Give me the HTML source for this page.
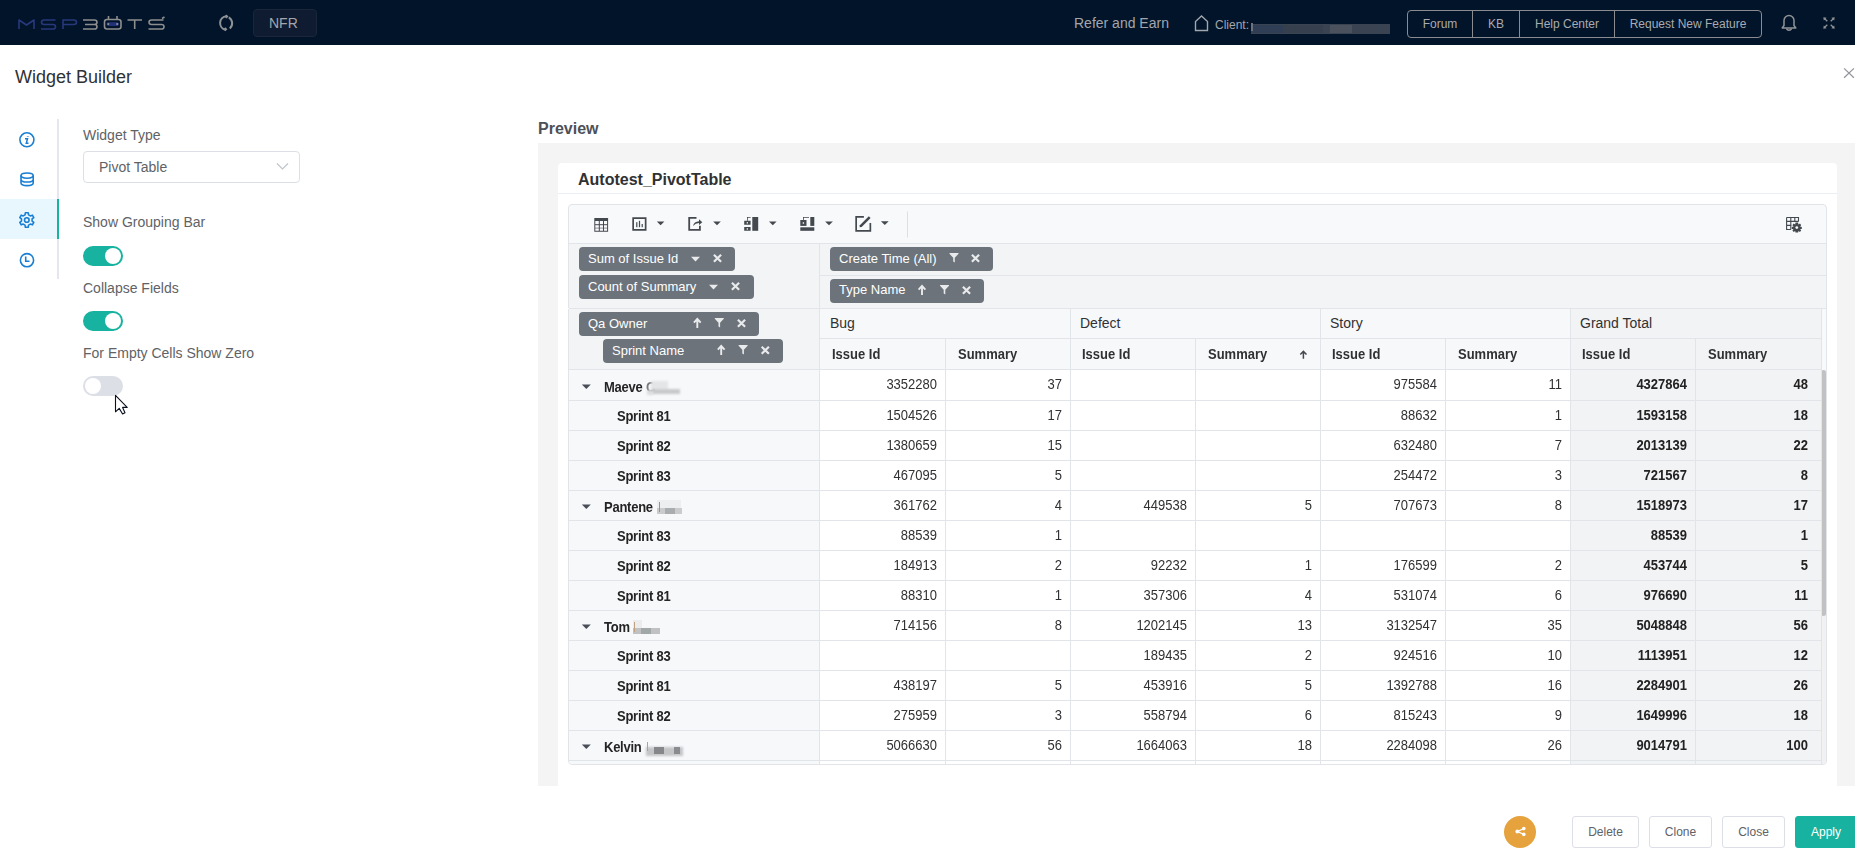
<!DOCTYPE html>
<html><head><meta charset="utf-8">
<style>
*{box-sizing:border-box;margin:0;padding:0}
html,body{width:1855px;height:859px;overflow:hidden;background:#fff;font-family:"Liberation Sans",sans-serif;position:relative}
.a{position:absolute;white-space:nowrap}
#nav{position:absolute;left:0;top:0;width:1855px;height:45px;background:#011429}
.navt{color:#a3a6ad}
.bg{position:absolute;left:1407px;top:10px;height:28px;border:1px solid #8a8c90;border-radius:4px;display:flex}
.bg div{height:26px;line-height:26px;font-size:12px;color:#a9abb0;text-align:center;border-left:1px solid #8a8c90}
.bg div:first-child{border-left:none}
.lbl{font-size:14px;color:#606266}
.tog{position:absolute;width:40px;height:20px;border-radius:10px;background:#18b3a0}
.tog::after{content:"";position:absolute;top:2px;left:22px;width:16px;height:16px;border-radius:50%;background:#fff}
.tog.off{background:#dcdfe6}
.tog.off::after{left:2px}
.chip{position:absolute;height:24px;border-radius:4px;background:#6c737b;color:#fff;font-size:13px;line-height:24px;padding-left:9px}
.chip svg{position:absolute;top:0}
.hl{position:absolute;height:1px;background:#e1e4e9}
.vl{position:absolute;width:1px;background:#e1e4e9}
.c{position:absolute;font-size:13px;line-height:16px;color:#303133;text-align:right;width:125px;transform:scaleY(1.13);transform-origin:0 12.5px}
.cb{font-weight:bold;color:#222}
.h2{transform:scaleY(1.1);transform-origin:0 12.5px}
.rl{position:absolute;font-size:13px;line-height:16px;font-weight:bold;color:#242424;letter-spacing:-0.25px;transform:scaleY(1.1);transform-origin:0 12.5px}
.fb{position:absolute;top:816px;height:32px;border:1px solid #dcdfe6;border-radius:3px;background:#fff;font-size:12px;line-height:30px;color:#606266;text-align:center}
.hd{position:absolute;font-size:13px;line-height:16px;color:#303133}
</style></head><body>

<div id="nav">
  <svg class="a" style="left:0;top:0" width="240" height="45" viewBox="0 0 240 45" fill="none" stroke-width="1.6" stroke-linejoin="round">
    <g stroke="#28387c">
      <path d="M19 29 V20 L26.5 25 L34 20 V29"/>
      <path d="M55.5 20 H44 Q41.5 20 41.5 22.3 Q41.5 24.5 44 24.5 H53 Q55.5 24.5 55.5 26.7 Q55.5 29 53 29 H41"/>
      <path d="M63 29 V20 H74 Q76.5 20 76.5 22.3 Q76.5 24.5 74 24.5 H63"/>
    </g>
    <g stroke="#8e8e8e">
      <path d="M83 20 H94.5 Q97 20 97 22.3 Q97 24.5 94.5 24.5 H85 M94.5 24.5 Q97 24.5 97 26.7 Q97 29 94.5 29 H83"/>
      <rect x="104.5" y="19.5" width="16.5" height="9.5" rx="2.5"/>
      <path d="M108.5 16 V19.5 M117 16 V19.5"/>
      <path d="M127.5 20 H142 M134.7 20 V29"/>
      <path d="M163.5 20 H151.5 Q149 20 149 22.3 Q149 24.5 151.5 24.5 H161.5 Q164 24.5 164 26.7 Q164 29 161.5 29 H148.5"/>
      <path d="M162 18.5 L164.5 17"/>
    </g>
    <rect x="106.5" y="22.3" width="12.5" height="3.6" rx="1.8" fill="#22327a"/><circle cx="108.3" cy="24.1" r="1.1" fill="#8e8e8e"/><circle cx="117.2" cy="24.1" r="1.1" fill="#8e8e8e"/>
    <g stroke="#8e9196" stroke-width="2" fill="none">
      <path d="M226.3 16.2 A6.9 6.9 0 0 0 225.5 29.8"/>
      <path d="M228.8 17.4 A6.9 6.9 0 0 1 229.8 28.5"/>
    </g>
    <path d="M226.5 14.5 L228.5 16.5 L226.5 18.5 L224.5 16.5 Z M225.4 27.3 L227.4 29.3 L225.4 31.3 L223.4 29.3 Z" fill="#8e9196"/>
  </svg>
  <div class="a" style="left:253px;top:9px;width:64px;height:28px;border-radius:4px;background:#0e1b30;border:1px solid #1b2638"></div>
  <div class="a navt" style="left:269px;top:15px;font-size:14px;line-height:16px">NFR</div>
  <div class="a navt" style="left:1074px;top:15px;font-size:14px;line-height:16px">Refer and Earn</div>
  <svg class="a" style="left:1193px;top:14px" width="17" height="18" viewBox="0 0 17 18" fill="none" stroke="#a3a6ad" stroke-width="1.4">
    <path d="M2.5 16.5 V7.5 L8.5 2 L14.5 7.5 V16.5 Z"/>
  </svg>
  <div class="a navt" style="left:1215px;top:18px;font-size:12px;line-height:14px">Client:</div>
  <div class="a" style="left:1251px;top:24px;width:139px;height:10px;background:#3a4351"></div>
  <div class="a" style="left:1251px;top:23px;width:2px;height:8px;background:#6b7280"></div>
  <div class="a" style="left:1253px;top:25px;width:30px;height:8px;background:#2f3d55"></div>
  <div class="a" style="left:1283px;top:25px;width:40px;height:8px;background:#363f4d"></div>
  <div class="a" style="left:1330px;top:25px;width:22px;height:8px;background:#4b525e"></div>
  <div class="bg">
    <div style="width:64px">Forum</div>
    <div style="width:47px">KB</div>
    <div style="width:95px">Help Center</div>
    <div style="width:147px">Request New Feature</div>
  </div>
  <svg class="a" style="left:1775px;top:8px" width="28" height="28" viewBox="1775 8 28 28" fill="none" stroke="#8f9296" stroke-width="1.5">
    <path d="M1782.2 28 H1795.8 L1794 25.5 V20.5 A5 5 0 0 0 1784 20.5 V25.5 Z" stroke-linejoin="round"/>
    <path d="M1786.8 28.5 V29.2 Q1789 31.3 1791.2 29.2 V28.5"/>
  </svg>
  <svg class="a" style="left:1815px;top:10px" width="26" height="26" viewBox="1815 10 26 26" fill="none" stroke="#8f9296" stroke-width="1.3">
    <path d="M1824.2 18.2 L1827.3 21.3 M1833.8 18.2 L1830.7 21.3 M1824.2 27.8 L1827.3 24.7 M1833.8 27.8 L1830.7 24.7"/>
    <g fill="#8f9296" stroke="none">
      <path d="M1823.3 17.3 L1826.6 17.8 L1823.8 20.6 Z"/>
      <path d="M1834.7 17.3 L1834.2 20.6 L1831.4 17.8 Z"/>
      <path d="M1823.3 28.7 L1823.8 25.4 L1826.6 28.2 Z"/>
      <path d="M1834.7 28.7 L1831.4 28.2 L1834.2 25.4 Z"/>
    </g>
  </svg>
</div>
<div class="a" style="left:15px;top:66px;font-size:18px;line-height:22px;color:#303133">Widget Builder</div>
<svg class="a" style="left:1841px;top:66px" width="14" height="14" viewBox="0 0 14 14" stroke="#909399" stroke-width="1.2"><path d="M3.1 2.4 L12.9 11.8 M12.9 2.4 L3.1 11.8"/></svg>

<div class="a" style="left:57px;top:119px;width:2px;height:160px;background:#e4e7ed"></div>
<div class="a" style="left:0;top:199px;width:57px;height:40px;background:#e8f6fe"></div>
<div class="a" style="left:57px;top:199px;width:2px;height:40px;background:#18b3a0"></div>
<svg class="a" style="left:0;top:110px" width="57" height="170" viewBox="0 110 57 170" fill="none" stroke="#1a7fd3" stroke-width="1.6">
  <circle cx="26.9" cy="139.8" r="7"/>
  <path d="M27.8 136 V136.6" stroke-width="2"/>
  <path d="M25 138.8 H27.5 L26.3 143.3 H28.5" stroke-width="1.5"/>
  <ellipse cx="27.1" cy="175.6" rx="6.1" ry="2.6"/>
  <path d="M21 175.6 V183 Q21 185.6 27.1 185.6 Q33.2 185.6 33.2 183 V175.6 M21 179.4 Q21 182 27.1 182 Q33.2 182 33.2 179.4"/>
  <path d="M25.04 214.89 L25.39 212.74 L28.21 212.74 L28.56 214.89 L30.34 215.92 L32.38 215.15 L33.80 217.59 L32.10 218.97 L32.10 221.03 L33.80 222.41 L32.38 224.85 L30.34 224.08 L28.56 225.11 L28.21 227.26 L25.39 227.26 L25.04 225.11 L23.26 224.08 L21.22 224.85 L19.80 222.41 L21.50 221.03 L21.50 218.97 L19.80 217.59 L21.22 215.15 L23.26 215.92 Z" stroke-linejoin="round"/>
  <circle cx="26.8" cy="220" r="2.3"/>
  <circle cx="27" cy="260.2" r="6.6"/>
  <path d="M25.7 256.5 V261.3 H29.5"/>
</svg>
<div class="a lbl" style="left:83px;top:127px;line-height:16px">Widget Type</div>
<div class="a" style="left:83px;top:151px;width:217px;height:32px;border:1px solid #dcdfe6;border-radius:4px"></div>
<div class="a lbl" style="left:99px;top:159px;line-height:16px">Pivot Table</div>
<svg class="a" style="left:275px;top:160px" width="15" height="12" viewBox="0 0 15 12" fill="none" stroke="#c0c4cc" stroke-width="1.2"><path d="M2 3.5 L7.5 9 L13 3.5"/></svg>
<div class="a lbl" style="left:83px;top:214px;line-height:16px">Show Grouping Bar</div>
<div class="tog" style="left:83px;top:246px"></div>
<div class="a lbl" style="left:83px;top:280px;line-height:16px">Collapse Fields</div>
<div class="tog" style="left:83px;top:311px"></div>
<div class="a lbl" style="left:83px;top:345px;line-height:16px">For Empty Cells Show Zero</div>
<div class="tog off" style="left:83px;top:376px"></div>
<svg class="a" style="left:110px;top:390px" width="24" height="30" viewBox="110 390 24 30"><path d="M115.5 395.3 V411.8 L119.2 408.4 L122.6 414 L125 412.7 L122.6 407.4 H127.2 Z" fill="#fff" stroke="#0a1020" stroke-width="1.1" stroke-linejoin="round"/></svg>

<div class="a" style="left:538px;top:120px;font-size:16px;line-height:18px;font-weight:bold;color:#4d5058">Preview</div>
<div class="a" style="left:538px;top:143px;width:1317px;height:643px;background:#f4f4f5"></div>
<div class="a" style="left:558px;top:163px;width:1279px;height:623px;background:#fff;border-radius:4px 4px 0 0"></div>
<div class="a" style="left:558px;top:193px;width:1279px;height:1px;background:#ebeef5"></div>
<div class="a" style="left:578px;top:171px;font-size:16px;line-height:18px;font-weight:bold;color:#303133">Autotest_PivotTable</div>

<div class="a" style="left:568px;top:204px;width:1259px;height:561px;border:1px solid #e1e4e9;border-radius:4px;background:#f8f9fb;overflow:hidden">
<div class="a" style="left:0px;top:38px;width:1258px;height:1px;background:#e1e4e9"></div>
<div class="a" style="left:0px;top:39px;width:1258px;height:64px;background:#f3f4f6"></div>
<div class="a" style="left:0px;top:103px;width:1258px;height:1px;background:#e1e4e9"></div>
<div class="a" style="left:251px;top:70px;width:1007px;height:1px;background:#e1e4e9"></div>
<div class="a" style="left:0px;top:104px;width:250px;height:60px;background:#f3f4f6"></div>
<div class="a" style="left:251px;top:104px;width:750px;height:60px;background:#f7f8fa"></div>
<div class="a" style="left:1002px;top:104px;width:250px;height:60px;background:#f2f3f5"></div>
<div class="a" style="left:0px;top:165px;width:250px;height:400px;background:#f7f8fa"></div>
<div class="a" style="left:251px;top:165px;width:750px;height:400px;background:#ffffff"></div>
<div class="a" style="left:1002px;top:165px;width:250px;height:400px;background:#f2f3f5"></div>
<div class="a" style="left:1253px;top:165px;width:5px;height:400px;background:#f1f1f1"></div>
<div class="a" style="left:1252px;top:165px;width:5px;height:246px;border-radius:3px;background:#c1c1c1"></div>
<div class="a" style="left:251px;top:133px;width:1001px;height:1px;background:#e1e4e9"></div>
<div class="a" style="left:0px;top:164px;width:1252px;height:1px;background:#e1e4e9"></div>
<div class="a" style="left:0px;top:195px;width:1252px;height:1px;background:#e1e4e9"></div>
<div class="a" style="left:0px;top:225px;width:1252px;height:1px;background:#e1e4e9"></div>
<div class="a" style="left:0px;top:255px;width:1252px;height:1px;background:#e1e4e9"></div>
<div class="a" style="left:0px;top:285px;width:1252px;height:1px;background:#e1e4e9"></div>
<div class="a" style="left:0px;top:315px;width:1252px;height:1px;background:#e1e4e9"></div>
<div class="a" style="left:0px;top:345px;width:1252px;height:1px;background:#e1e4e9"></div>
<div class="a" style="left:0px;top:375px;width:1252px;height:1px;background:#e1e4e9"></div>
<div class="a" style="left:0px;top:405px;width:1252px;height:1px;background:#e1e4e9"></div>
<div class="a" style="left:0px;top:435px;width:1252px;height:1px;background:#e1e4e9"></div>
<div class="a" style="left:0px;top:465px;width:1252px;height:1px;background:#e1e4e9"></div>
<div class="a" style="left:0px;top:495px;width:1252px;height:1px;background:#e1e4e9"></div>
<div class="a" style="left:0px;top:525px;width:1252px;height:1px;background:#e1e4e9"></div>
<div class="a" style="left:0px;top:555px;width:1252px;height:1px;background:#e1e4e9"></div>
<div class="a" style="left:250px;top:39px;width:1px;height:520px;background:#e1e4e9"></div>
<div class="a" style="left:376px;top:134px;width:1px;height:425px;background:#e1e4e9"></div>
<div class="a" style="left:501px;top:104px;width:1px;height:455px;background:#e1e4e9"></div>
<div class="a" style="left:626px;top:134px;width:1px;height:425px;background:#e1e4e9"></div>
<div class="a" style="left:751px;top:104px;width:1px;height:455px;background:#e1e4e9"></div>
<div class="a" style="left:876px;top:134px;width:1px;height:425px;background:#e1e4e9"></div>
<div class="a" style="left:1001px;top:104px;width:1px;height:455px;background:#e1e4e9"></div>
<div class="a" style="left:1126px;top:134px;width:1px;height:425px;background:#e1e4e9"></div>
<div class="a" style="left:1252px;top:104px;width:1px;height:455px;background:#e1e4e9"></div>
<div class="a hd" style="font-size:14px;left:261px;top:110px">Bug</div>
<div class="a hd" style="font-size:14px;left:511px;top:110px">Defect</div>
<div class="a hd" style="font-size:14px;left:761px;top:110px">Story</div>
<div class="a hd" style="font-size:14px;left:1011px;top:110px">Grand Total</div>
<div class="a hd cb h2" style="left:263px;top:142px">Issue Id</div>
<div class="a hd cb h2" style="left:389px;top:142px">Summary</div>
<div class="a hd cb h2" style="left:513px;top:142px">Issue Id</div>
<div class="a hd cb h2" style="left:639px;top:142px">Summary</div>
<div class="a hd cb h2" style="left:763px;top:142px">Issue Id</div>
<div class="a hd cb h2" style="left:889px;top:142px">Summary</div>
<div class="a hd cb h2" style="left:1013px;top:142px">Issue Id</div>
<div class="a hd cb h2" style="left:1139px;top:142px">Summary</div>
<svg class="a" style="left:12px;top:179px" width="10" height="6" viewBox="0 0 10 6"><path d="M0.8 0.6 H9.8 L5.3 5 Z" fill="#4a4f57"/></svg>
<div class="a rl" style="left:35px;top:175px">Maeve</div>
<div class="a c" style="left:243px;top:172px">3352280</div>
<div class="a c" style="left:368px;top:172px">37</div>
<div class="a c" style="left:743px;top:172px">975584</div>
<div class="a c" style="left:868px;top:172px">11</div>
<div class="a c cb" style="left:993px;top:172px">4327864</div>
<div class="a c cb" style="left:1114px;top:172px">48</div>
<div class="a rl" style="left:48px;top:204px">Sprint 81</div>
<div class="a c" style="left:243px;top:203px">1504526</div>
<div class="a c" style="left:368px;top:203px">17</div>
<div class="a c" style="left:743px;top:203px">88632</div>
<div class="a c" style="left:868px;top:203px">1</div>
<div class="a c cb" style="left:993px;top:203px">1593158</div>
<div class="a c cb" style="left:1114px;top:203px">18</div>
<div class="a rl" style="left:48px;top:234px">Sprint 82</div>
<div class="a c" style="left:243px;top:233px">1380659</div>
<div class="a c" style="left:368px;top:233px">15</div>
<div class="a c" style="left:743px;top:233px">632480</div>
<div class="a c" style="left:868px;top:233px">7</div>
<div class="a c cb" style="left:993px;top:233px">2013139</div>
<div class="a c cb" style="left:1114px;top:233px">22</div>
<div class="a rl" style="left:48px;top:264px">Sprint 83</div>
<div class="a c" style="left:243px;top:263px">467095</div>
<div class="a c" style="left:368px;top:263px">5</div>
<div class="a c" style="left:743px;top:263px">254472</div>
<div class="a c" style="left:868px;top:263px">3</div>
<div class="a c cb" style="left:993px;top:263px">721567</div>
<div class="a c cb" style="left:1114px;top:263px">8</div>
<svg class="a" style="left:12px;top:299px" width="10" height="6" viewBox="0 0 10 6"><path d="M0.8 0.6 H9.8 L5.3 5 Z" fill="#4a4f57"/></svg>
<div class="a rl" style="left:35px;top:295px">Pantene</div>
<div class="a c" style="left:243px;top:293px">361762</div>
<div class="a c" style="left:368px;top:293px">4</div>
<div class="a c" style="left:493px;top:293px">449538</div>
<div class="a c" style="left:618px;top:293px">5</div>
<div class="a c" style="left:743px;top:293px">707673</div>
<div class="a c" style="left:868px;top:293px">8</div>
<div class="a c cb" style="left:993px;top:293px">1518973</div>
<div class="a c cb" style="left:1114px;top:293px">17</div>
<div class="a rl" style="left:48px;top:324px">Sprint 83</div>
<div class="a c" style="left:243px;top:323px">88539</div>
<div class="a c" style="left:368px;top:323px">1</div>
<div class="a c cb" style="left:993px;top:323px">88539</div>
<div class="a c cb" style="left:1114px;top:323px">1</div>
<div class="a rl" style="left:48px;top:354px">Sprint 82</div>
<div class="a c" style="left:243px;top:353px">184913</div>
<div class="a c" style="left:368px;top:353px">2</div>
<div class="a c" style="left:493px;top:353px">92232</div>
<div class="a c" style="left:618px;top:353px">1</div>
<div class="a c" style="left:743px;top:353px">176599</div>
<div class="a c" style="left:868px;top:353px">2</div>
<div class="a c cb" style="left:993px;top:353px">453744</div>
<div class="a c cb" style="left:1114px;top:353px">5</div>
<div class="a rl" style="left:48px;top:384px">Sprint 81</div>
<div class="a c" style="left:243px;top:383px">88310</div>
<div class="a c" style="left:368px;top:383px">1</div>
<div class="a c" style="left:493px;top:383px">357306</div>
<div class="a c" style="left:618px;top:383px">4</div>
<div class="a c" style="left:743px;top:383px">531074</div>
<div class="a c" style="left:868px;top:383px">6</div>
<div class="a c cb" style="left:993px;top:383px">976690</div>
<div class="a c cb" style="left:1114px;top:383px">11</div>
<svg class="a" style="left:12px;top:419px" width="10" height="6" viewBox="0 0 10 6"><path d="M0.8 0.6 H9.8 L5.3 5 Z" fill="#4a4f57"/></svg>
<div class="a rl" style="left:35px;top:415px">Tom</div>
<div class="a c" style="left:243px;top:413px">714156</div>
<div class="a c" style="left:368px;top:413px">8</div>
<div class="a c" style="left:493px;top:413px">1202145</div>
<div class="a c" style="left:618px;top:413px">13</div>
<div class="a c" style="left:743px;top:413px">3132547</div>
<div class="a c" style="left:868px;top:413px">35</div>
<div class="a c cb" style="left:993px;top:413px">5048848</div>
<div class="a c cb" style="left:1114px;top:413px">56</div>
<div class="a rl" style="left:48px;top:444px">Sprint 83</div>
<div class="a c" style="left:493px;top:443px">189435</div>
<div class="a c" style="left:618px;top:443px">2</div>
<div class="a c" style="left:743px;top:443px">924516</div>
<div class="a c" style="left:868px;top:443px">10</div>
<div class="a c cb" style="left:993px;top:443px">1113951</div>
<div class="a c cb" style="left:1114px;top:443px">12</div>
<div class="a rl" style="left:48px;top:474px">Sprint 81</div>
<div class="a c" style="left:243px;top:473px">438197</div>
<div class="a c" style="left:368px;top:473px">5</div>
<div class="a c" style="left:493px;top:473px">453916</div>
<div class="a c" style="left:618px;top:473px">5</div>
<div class="a c" style="left:743px;top:473px">1392788</div>
<div class="a c" style="left:868px;top:473px">16</div>
<div class="a c cb" style="left:993px;top:473px">2284901</div>
<div class="a c cb" style="left:1114px;top:473px">26</div>
<div class="a rl" style="left:48px;top:504px">Sprint 82</div>
<div class="a c" style="left:243px;top:503px">275959</div>
<div class="a c" style="left:368px;top:503px">3</div>
<div class="a c" style="left:493px;top:503px">558794</div>
<div class="a c" style="left:618px;top:503px">6</div>
<div class="a c" style="left:743px;top:503px">815243</div>
<div class="a c" style="left:868px;top:503px">9</div>
<div class="a c cb" style="left:993px;top:503px">1649996</div>
<div class="a c cb" style="left:1114px;top:503px">18</div>
<svg class="a" style="left:12px;top:539px" width="10" height="6" viewBox="0 0 10 6"><path d="M0.8 0.6 H9.8 L5.3 5 Z" fill="#4a4f57"/></svg>
<div class="a rl" style="left:35px;top:535px">Kelvin</div>
<div class="a c" style="left:243px;top:533px">5066630</div>
<div class="a c" style="left:368px;top:533px">56</div>
<div class="a c" style="left:493px;top:533px">1664063</div>
<div class="a c" style="left:618px;top:533px">18</div>
<div class="a c" style="left:743px;top:533px">2284098</div>
<div class="a c" style="left:868px;top:533px">26</div>
<div class="a c cb" style="left:993px;top:533px">9014791</div>
<div class="a c cb" style="left:1114px;top:533px">100</div>
<div class="a rl" style="left:77px;top:175px;color:#7a7a7a">C</div>
<div class="a" style="left:82px;top:176px;width:17px;height:9px;background:#e4e5e6;filter:blur(0.8px)"></div>
<div class="a" style="left:83px;top:184px;width:28px;height:5px;background:#c8c9cb;filter:blur(0.8px)"></div>
<div class="a" style="left:78px;top:185px;width:6px;height:5px;background:#dcdcdc;filter:blur(0.8px)"></div>
<div class="a" style="left:88px;top:295px;width:24px;height:8px;background:#eceef0;filter:blur(0.6px)"></div>
<div class="a" style="left:88px;top:303px;width:25px;height:6px;background:#c9cbcd;filter:blur(0.6px)"></div>
<div class="a" style="left:96px;top:303px;width:10px;height:6px;background:#a9adb0;filter:blur(0.6px)"></div>
<div class="a" style="left:89.5px;top:297px;width:1.3px;height:10px;background:#b09070;filter:blur(0.2px)"></div>
<div class="a" style="left:64px;top:415px;width:9px;height:9px;background:#ececec;filter:blur(0.6px)"></div>
<div class="a" style="left:64px;top:423px;width:27px;height:6px;background:#bfc1c2;filter:blur(0.6px)"></div>
<div class="a" style="left:72px;top:423px;width:10px;height:6px;background:#a2a7a8;filter:blur(0.6px)"></div>
<div class="a" style="left:65px;top:417px;width:1.3px;height:10px;background:#c0a080;filter:blur(0.2px)"></div>
<div class="a" style="left:77px;top:542px;width:37px;height:9px;background:#c4c5c7;filter:blur(0.8px)"></div>
<div class="a" style="left:85px;top:542px;width:10px;height:7px;background:#85878a;filter:blur(0.6px)"></div>
<div class="a" style="left:105px;top:542px;width:6px;height:7px;background:#8a8b8f;filter:blur(0.6px)"></div>
<div class="a" style="left:78.29999999999995px;top:537px;width:1.2px;height:9px;background:#b0a490;filter:blur(0.3px)"></div>
<svg class="a" style="left:726px;top:141px" width="16" height="18" viewBox="1295 346 16 18"><path d="M1303.4 358.8 V351.8 M1300.3 354.6 L1303.4 351.4 L1306.5 354.6" fill="none" stroke="#44494f" stroke-width="1.5"/></svg>
<svg class="a" style="left:0;top:0" width="1258" height="38" viewBox="569 205 1258 38">
<g fill="#44494f">
  <!-- table icon -->
  <rect x="594.3" y="218" width="13.8" height="3"/>
  <path d="M594.3 221 V231.8 H608.1 V221 H607.1 V230.8 H595.3 V221 Z"/>
  <rect x="598.8" y="221" width="1" height="10"/>
  <rect x="603" y="221" width="1" height="10"/>
  <rect x="595" y="224.2" width="12.5" height="1"/>
  <rect x="595" y="227.6" width="12.5" height="1" opacity=".6"/>
  <!-- chart icon -->
  <path d="M632.3 217.2 H646.5 V230.8 H632.3 Z M634 218.9 V229.1 H644.8 V218.9 Z" fill-rule="evenodd"/>
  <rect x="636.2" y="222.2" width="1.2" height="5"/>
  <rect x="638.9" y="220.8" width="1.2" height="6.4"/>
  <rect x="641.6" y="224" width="1.2" height="3.2"/>
  <path d="M656.8 221.5 H664.4 L660.6 225.3 Z"/>
  <!-- export icon -->
  <path d="M688.3 217 H696.5 V218.8 H690.1 V229 H699 V225.8 H700.8 V230.8 H688.3 Z"/>
  <path d="M693 226 Q694 221.5 699 221.2 V219.3 L702.3 222.2 L699 225 V223 Q695.5 223 693 226 Z"/>
  <path d="M713.2 221.5 H720.8 L717 225.3 Z"/>
  <!-- columns icon -->
  <rect x="752.3" y="217" width="5.9" height="13.8"/>
  <path d="M744.2 220.8 H750.6 V224.7 H744.2 Z M744.2 226.9 H750.6 V230.8 H744.2 Z"/>
  <path d="M747 217 H750.6 V217.8 H747.8 V220.8 H747 Z"/>
  <path d="M769 221.5 H776.6 L772.8 225.3 Z"/>
  <!-- rows icon -->
  <rect x="800.3" y="227.3" width="14" height="3.5"/>
  <rect x="810.3" y="217" width="4" height="8.9"/>
  <rect x="800.3" y="220" width="6.2" height="5.9"/>
  <path d="M803 217 H809 V217.8 H803.8 V220 H803 Z"/>
  <path d="M825.1 221.5 H832.9 L829 225.3 Z"/>
  <!-- edit icon -->
  <path d="M855.3 216 H863.9 V217.7 H857 V230.1 H869.5 V223 H871.2 V231.8 H855.3 Z"/>
  <path d="M859.8 225.2 L868.8 216.2 L870.6 218 L861.6 227 L859.6 227.3 Z"/>
  <path d="M880.9 221.3 H888.7 L884.8 225.1 Z"/>
</g>
<g fill="#fff">
  <rect x="746.7" y="222.2" width="1.3" height="1.3"/>
  <rect x="746.7" y="228.3" width="1.3" height="1.3"/>
  <rect x="802.7" y="222.3" width="1.4" height="1.4"/>
</g>
<rect x="907" y="211.5" width="1" height="26" fill="#dcdfe6"/>
<g fill="none" stroke="#44494f" stroke-width="1.1">
  <path d="M1786.6 217.5 H1798.5 V221.4 M1786.6 217.5 V229.5 H1790.8 M1786.6 221.4 H1798.5 M1786.6 225.4 H1791.5 M1790.8 217.5 V229.5 M1794.8 217.5 V221.4"/>
</g>
<g transform="translate(1796.8 227.6)" fill="#44494f">
  <path d="M-1.3 -5 H1.3 L1.6 -3.2 L3.2 -4.1 L4.4 -2.4 L3.2 -1.2 L5 -0.7 V1.3 L3.2 1.4 L4.4 2.7 L3.2 4.4 L1.6 3.4 L1.3 5 H-1.3 L-1.6 3.4 L-3.2 4.4 L-4.4 2.7 L-3.2 1.4 L-5 1.3 V-0.7 L-3.2 -1.2 L-4.4 -2.4 L-3.2 -4.1 L-1.6 -3.2 Z"/>
  <circle r="1.4" fill="#f8f9fb"/>
</g>
</svg>

<div class="chip" style="left:10px;top:42px;width:156px"><svg class="a" style="left:0;top:0" width="156" height="24" viewBox="0 0 156 24"><path d="M112 9.8 H121 L116.5 14.6 Z" fill="#e9eaec"/><path d="M134.9 7.8 L142.1 14.8 M142.1 7.8 L134.9 14.8" stroke="#e9eaec" stroke-width="2.2" fill="none"/></svg><span style="position:relative;top:0px">Sum of Issue Id</span></div>
<div class="chip" style="left:10px;top:70px;width:175px"><svg class="a" style="left:0;top:0" width="175" height="24" viewBox="0 0 175 24"><path d="M130 9.8 H139 L134.5 14.6 Z" fill="#e9eaec"/><path d="M152.9 7.8 L160.1 14.8 M160.1 7.8 L152.9 14.8" stroke="#e9eaec" stroke-width="2.2" fill="none"/></svg><span style="position:relative;top:0px">Count of Summary</span></div>
<div class="chip" style="left:261px;top:42px;width:163px"><svg class="a" style="left:0;top:0" width="163" height="24" viewBox="0 0 163 24"><path d="M119.5 6 H128.5 V6.8 L124.8 10.8 V15.5 L123.2 14.6 V10.8 L119.5 6.8 Z" fill="#e9eaec"/><path d="M141.9 7.8 L149.1 14.8 M149.1 7.8 L141.9 14.8" stroke="#e9eaec" stroke-width="2.2" fill="none"/></svg><span style="position:relative;top:0px">Create Time (All)</span></div>
<div class="chip" style="left:261px;top:74px;width:154px"><svg class="a" style="left:0;top:0" width="154" height="24" viewBox="0 0 154 24"><path d="M92 16 V7.5 M88.6 10.6 L92 7 L95.4 10.6" stroke="#e9eaec" stroke-width="1.9" fill="none"/><path d="M110 6 H119 V6.8 L115.3 10.8 V15.5 L113.7 14.6 V10.8 L110 6.8 Z" fill="#e9eaec"/><path d="M132.9 7.8 L140.1 14.8 M140.1 7.8 L132.9 14.8" stroke="#e9eaec" stroke-width="2.2" fill="none"/></svg><span style="position:relative;top:-1px">Type Name</span></div>
<div class="chip" style="left:10px;top:107px;width:180px"><svg class="a" style="left:0;top:0" width="180" height="24" viewBox="0 0 180 24"><path d="M118.29999999999995 16 V7.5 M114.89999999999995 10.6 L118.29999999999995 7 L121.69999999999996 10.6" stroke="#e9eaec" stroke-width="1.9" fill="none"/><path d="M135.79999999999995 6 H144.79999999999995 V6.8 L141.09999999999997 10.8 V15.5 L139.49999999999994 14.6 V10.8 L135.79999999999995 6.8 Z" fill="#e9eaec"/><path d="M158.9 7.8 L166.1 14.8 M166.1 7.8 L158.9 14.8" stroke="#e9eaec" stroke-width="2.2" fill="none"/></svg><span style="position:relative;top:0px">Qa Owner</span></div>
<div class="chip" style="left:34px;top:134px;width:180px"><svg class="a" style="left:0;top:0" width="180" height="24" viewBox="0 0 180 24"><path d="M118.20000000000005 16 V7.5 M114.80000000000004 10.6 L118.20000000000005 7 L121.60000000000005 10.6" stroke="#e9eaec" stroke-width="1.9" fill="none"/><path d="M135.60000000000002 6 H144.60000000000002 V6.8 L140.90000000000003 10.8 V15.5 L139.3 14.6 V10.8 L135.60000000000002 6.8 Z" fill="#e9eaec"/><path d="M158.69999999999996 7.8 L165.89999999999995 14.8 M165.89999999999995 7.8 L158.69999999999996 14.8" stroke="#e9eaec" stroke-width="2.2" fill="none"/></svg><span style="position:relative;top:0px">Sprint Name</span></div>
</div>
<div class="a" style="left:568px;top:308px;width:1px;height:1px;background:#fcfcfd"></div>
<div class="a" style="left:1504px;top:816px;width:32px;height:32px;border-radius:50%;background:#e6a23c"></div>
<svg class="a" style="left:1504px;top:816px" width="32" height="32" viewBox="0 0 32 32" fill="#fff">
  <circle cx="13.3" cy="15.5" r="1.9"/><circle cx="19.8" cy="12.6" r="1.8"/><circle cx="19.8" cy="18.4" r="1.8"/>
  <path d="M13.3 15.5 L19.8 12.6 M13.3 15.5 L19.8 18.4" stroke="#fff" stroke-width="1.2"/>
</svg>
<div class="a fb" style="left:1572px;width:67px">Delete</div>
<div class="a fb" style="left:1649px;width:63px">Clone</div>
<div class="a fb" style="left:1722px;width:63px">Close</div>
<div class="a fb" style="left:1795px;width:70px;background:#18b3a0;border-color:#18b3a0;color:#fff;text-align:left;padding-left:15px">Apply</div>

</body></html>
